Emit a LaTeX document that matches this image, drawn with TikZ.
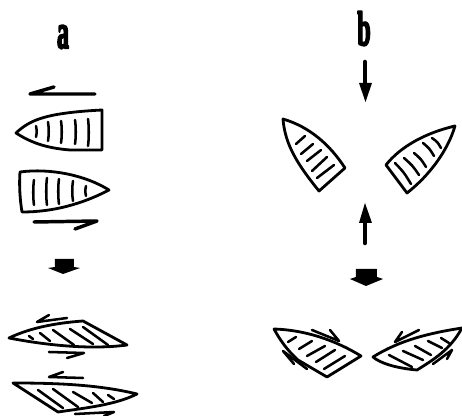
\documentclass[tikz,border=0pt]{standalone}
\usepackage{fontspec}
\setmainfont{Liberation Serif}
\newfontfamily\tagfont[FakeBold=5]{Liberation Serif Bold}
\begin{document}
\begin{tikzpicture}[x=.75pt,y=-.75pt,line cap=round,line join=round,
    hull/.style={draw=black,line width=2.1pt},
    rib/.style={draw=black,line width=1.9pt},
    pull/.style={draw=black,line width=2.6pt},
    nudge/.style={draw=black,line width=1.9pt},
    shove/.style={fill=black,draw=none},
    letter/.style={font=\tagfont\fontsize{36}{36}\selectfont,xscale=.5,inner sep=0pt,anchor=base}]
    \useasboundingbox (0,0) rectangle (462,416);

    \node[letter] (a) at (63,48) {a};
    \node[letter] (b) at (364,45) {b};

    % column a: side by side
    \draw[hull] (16,133) .. controls (30,120) and (45,113) .. (102,110) -- (102,150) -- (70,150) .. controls (45,148) and (30,142) .. cycle;
    \draw[hull] (20,172) .. controls (50,168) and (85,175) .. (109,190) .. controls (90,200) and (60,212) .. (22,212) .. controls (20,200) and (19,185) .. cycle;
    \foreach \x/\ya/\yb in {36/126/137,48/122/141,61/121/143,75/120/144,88/119/146}
        \draw[rib] (\x,\ya) .. controls (\x+1,\ya+6) and (\x+1,\yb-6) .. (\x,\yb);
    \foreach \x/\ya/\yb in {34/180/205,47/178/205,59/179/204,73/181/201,86/186/196}
        \draw[rib] (\x,\ya) .. controls (\x-1,\ya+6) and (\x-1,\yb-6) .. (\x,\yb);
    \draw[pull] (95,94) -- (30,94) -- (54,87);
    \draw[pull] (34,222) -- (97,221) -- (75,229);

    \draw[shove] (55,259) -- (74,259) -- (74,267) -- (80,268) -- (63,274) -- (48,268) -- (55,267) -- cycle;

    % column a: after the glancing contact
    \draw[hull] (9,338) .. controls (30,328) and (55,323) .. (83,321) -- (127,345) .. controls (90,350) and (45,345) .. cycle;
    \foreach \xa/\ya/\xb/\yb in {29/336/33/339,40/333/50/341,53/330/74/345,70/329/93/344,83/327/108/345}
        \draw[rib] (\xa,\ya) -- (\xb,\yb);
    \draw[nudge] (67,318) -- (37,322) -- (49,315);
    \draw[nudge] (49,352) -- (84,353) -- (67,358);

    \draw[hull] (13,383) .. controls (60,383) and (100,385) .. (137,394) .. controls (115,405) and (85,408) .. (58,412) -- cycle;
    \foreach \xa/\ya/\xb/\yb in {38/390/63/408,53/389/78/407,73/392/92/403,93/393/103/402,108/395/114/399}
        \draw[rib] (\xa,\ya) -- (\xb,\yb);
    \draw[nudge] (83,378) -- (49,377) -- (63,372);
    \draw[nudge] (75,414) -- (114,412) -- (104,416);

    % column b: head on
    \draw[hull] (283,119) .. controls (310,127) and (330,145) .. (345,168) -- (319,191) .. controls (298,165) and (285,145) .. cycle;
    \foreach \xa/\ya/\xb/\yb in {296/144/305/136,301/154/313/144,307/161/321/150,312/171/327/157,317/178/334/165}
        \draw[rib] (\xa,\ya) -- (\xb,\yb);
    \draw[hull] (455,126) .. controls (425,133) and (400,147) .. (386,165) -- (407,193) .. controls (430,175) and (448,150) .. cycle;
    \foreach \xa/\ya/\xb/\yb in {395/163/411/184,404/158/419/175,414/153/426/167,423/143/434/156,432/138/441/148}
        \draw[rib] (\xa,\ya) .. controls ({(\xa+\xb)/2+1},{(\ya+\yb)/2-1}) .. (\xb,\yb);

    \draw[pull,line width=3.4pt] (365,62) -- (365,84);
    \draw[shove] (359,83) -- (372,83) -- (365.5,102) -- cycle;
    \draw[pull,line width=3.4pt] (365,243) -- (365,222);
    \draw[shove] (359,223) -- (372,223) -- (365,203) -- cycle;

    \draw[shove] (356,269) -- (377,269) -- (377,277) -- (383,279) -- (366,286) -- (350,279) -- (356,277) -- cycle;

    % column b: after the collision
    \draw[hull] (274,329) .. controls (305,330) and (335,340) .. (361,356) -- (327,377) -- (298,360) .. controls (287,350) and (280,340) .. cycle;
    \foreach \xa/\ya/\xb/\yb in {288/342/296/337,299/349/312/341,307/356/325/346,316/362/335/350,324/369/345/356}
        \draw[rib] (\xa,\ya) -- (\xb,\yb);
    \draw[nudge] (312,330) -- (339,341) -- (330,330);
    \draw[nudge] (307,369) -- (283,351) -- (294,364);

    \draw[hull] (462,328) .. controls (430,333) and (400,340) .. (373,357) .. controls (380,363) and (395,368) .. (417,370) .. controls (433,360) and (450,350) .. cycle;
    \foreach \xa/\ya/\xb/\yb in {389/355/412/367,403/351/423/360,415/346/431/355,428/341/442/348,441/338/449/343}
        \draw[rib] (\xa,\ya) -- (\xb,\yb);
    \draw[nudge] (419,330) -- (395,342) -- (402,332);
    \draw[nudge] (433,364) -- (452,350) -- (447,359);
\end{tikzpicture}
\end{document}
